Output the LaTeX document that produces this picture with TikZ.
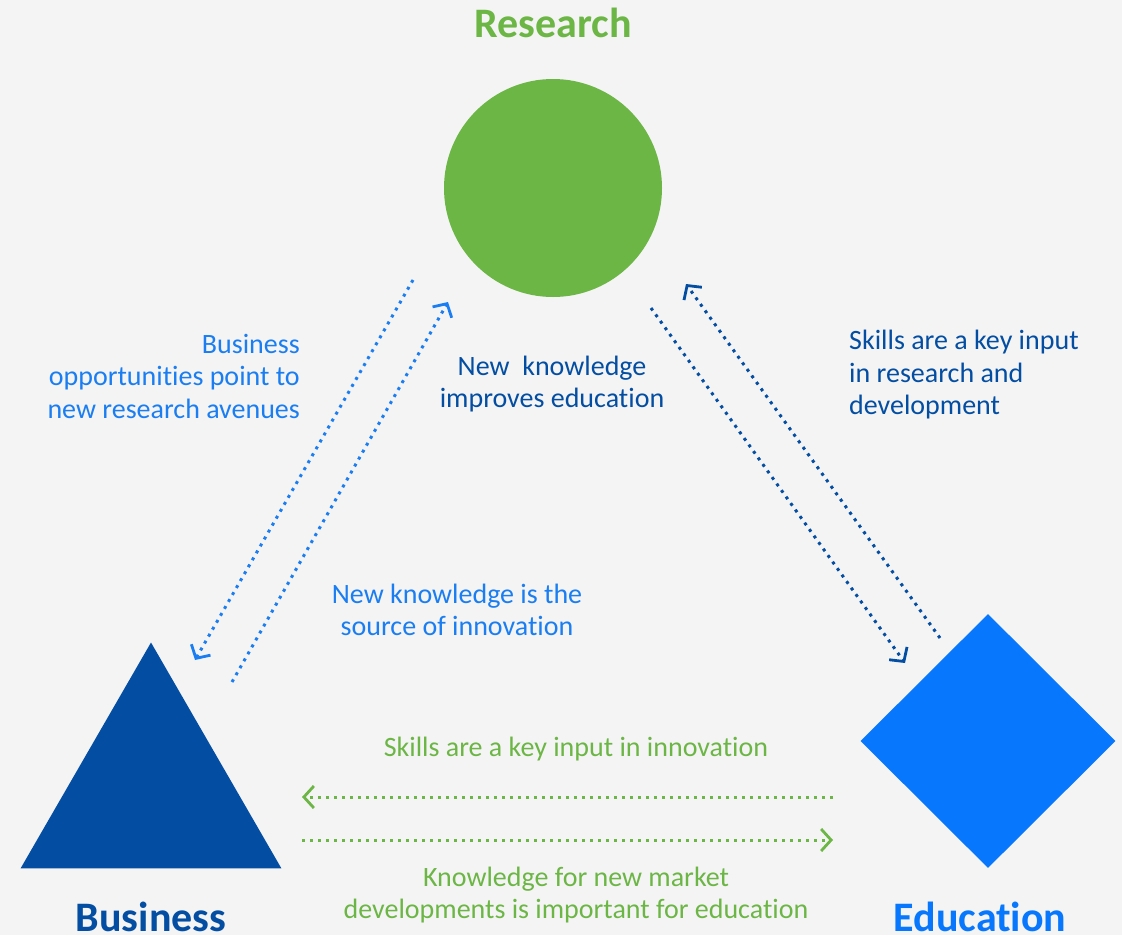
\documentclass[tikz,border=0pt]{standalone}
\usepackage{fontspec}
\setmainfont{Carlito}[Ligatures=NoCommon]
\usepackage{xcolor}
\usepackage{tikz}
\usetikzlibrary{
  arrows.meta,
  positioning,
  shapes.geometric,
  backgrounds
}
\definecolor{bgcolor}{HTML}{F4F4F4}
\definecolor{rescolor}{HTML}{6CB645}
\definecolor{buscolor}{HTML}{034EA2}
\definecolor{educolor}{HTML}{0777FD}
\definecolor{lightblue}{HTML}{1A7EF2}

\begin{document}
\begin{tikzpicture}[
  x=1pt, y=-1pt,
  title/.style={font=\fontsize{42}{44}\selectfont\bfseries, inner sep=0pt},
  lbl/.style={font=\fontsize{28}{32.5}\selectfont, inner sep=0pt},
  flow/.style={line width=3pt, dash pattern=on 3pt off 5pt,
               -{Straight Barb[length=10pt, width=22pt, line width=2.8pt]}},
]
  \fill[bgcolor] (0,0) rectangle (1122,935);
  \useasboundingbox (0,0) rectangle (1122,935);

  % Research
  \node[circle, fill=rescolor, minimum size=218pt, inner sep=0pt] (res) at (553,188) {};
  \node[title, text=rescolor] (restitle) at (553,23) {Research};

  % Business
  \node[regular polygon, regular polygon sides=3, fill=buscolor,
        minimum size=301pt, inner sep=0pt] (bus) at (151,793) {};
  \node[title, text=buscolor, anchor=base] (bustitle) at (151,931) {Business};

  % Education
  \node[diamond, fill=educolor, minimum width=255pt, minimum height=254pt,
        inner sep=0pt] (edu) at (988,741) {};
  \node[title, text=educolor, anchor=base] (edutitle) at (980,931) {Education};

  % arrow ends
  \coordinate (rb1) at (413,280);  \coordinate (rb2) at (195,660);
  \coordinate (br1) at (232,682);  \coordinate (br2) at (448,302);
  \coordinate (re1) at (651,308);  \coordinate (re2) at (905,663);
  \coordinate (er1) at (940,638);  \coordinate (er2) at (686,284);
  \coordinate (eb1) at (833,797);  \coordinate (eb2) at (302,797);
  \coordinate (be1) at (302,840);  \coordinate (be2) at (833,840);

  \draw[flow, lightblue] (rb1) -- (rb2);
  \draw[flow, lightblue] (br1) -- (br2);
  \draw[flow, buscolor] (re1) -- (re2);
  \draw[flow, buscolor] (er1) -- (er2);
  \draw[flow, rescolor] (eb1) -- (eb2);
  \draw[flow, rescolor] (be1) -- (be2);

  % labels
  \node[lbl, text=lightblue, align=right, anchor=east] (busopp) at (300,376)
    {Business\\opportunities point to\\new research avenues};
  \node[lbl, text=buscolor, align=center] (newknow) at (552,384)
    {New\ \ knowledge\\improves education};
  \node[lbl, text=buscolor, align=left, anchor=west] (skillsrd) at (849,375)
    {Skills are a key input\\in research and\\development};
  \node[lbl, text=lightblue, align=center] (newsrc) at (457,610)
    {New knowledge is the\\source of innovation};
  \node[lbl, text=rescolor] (skillsinn) at (576,749)
    {Skills are a key input in innovation};
  \node[lbl, text=rescolor, align=center] (knowmkt) at (576,895)
    {Knowledge for new market\\developments is important for education};

\end{tikzpicture}
\end{document}
